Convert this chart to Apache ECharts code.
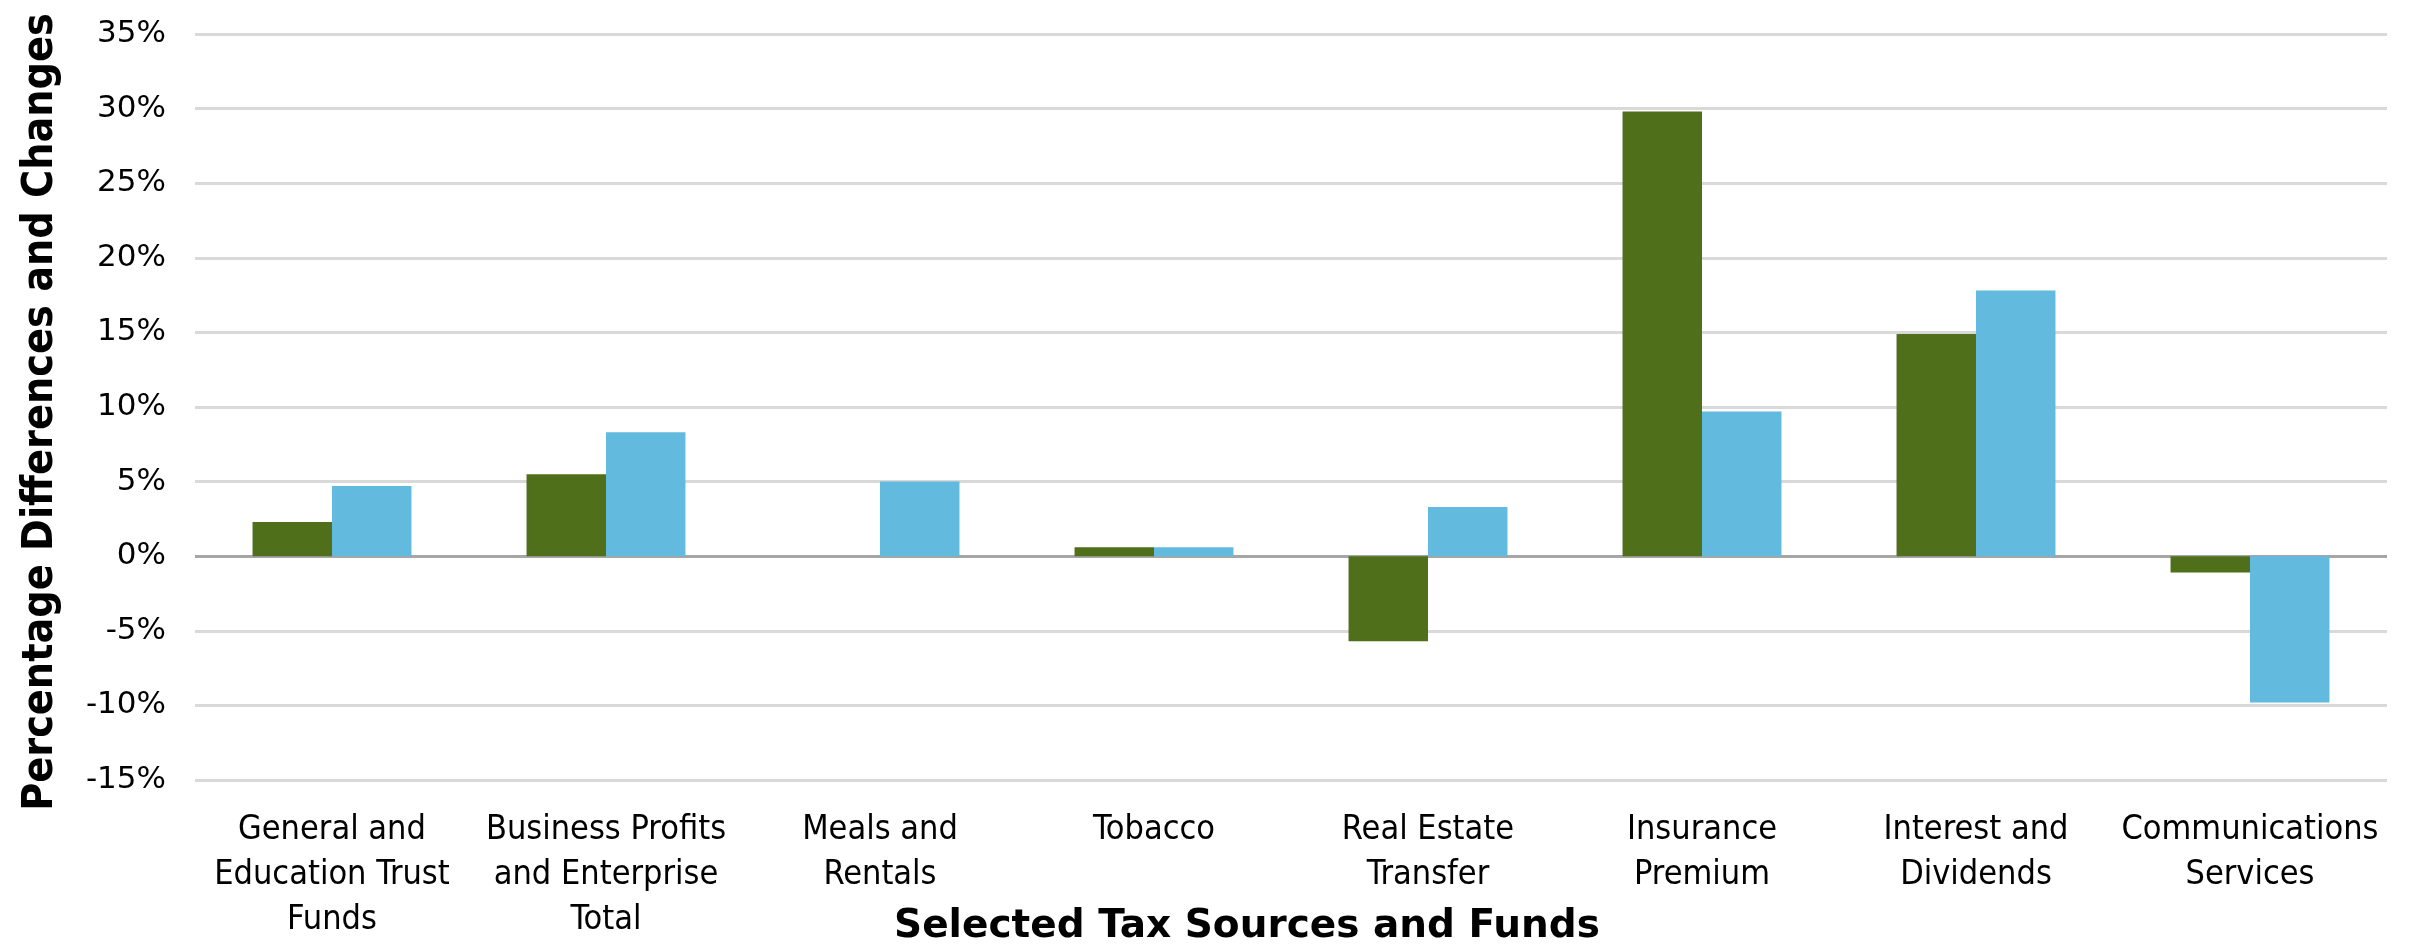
<!DOCTYPE html>
<html>
<head>
<meta charset="utf-8">
<script src="https://cdn.jsdelivr.net/npm/echarts@6/dist/echarts.min.js"></script>
<style>
html,body{margin:0;padding:0;background:#fff;}
#chart{width:2412px;height:948px;}
</style>
</head>
<body>
<div id="chart"></div>
<script>
const categories = [
  'General and\nEducation Trust\nFunds',
  'Business Profits\nand Enterprise\nTotal',
  'Meals and\nRentals',
  'Tobacco',
  'Real Estate\nTransfer',
  'Insurance\nPremium',
  'Interest and\nDividends',
  'Communications\nServices'
];
const greenValues = [2.3, 5.5, 0, 0.6, -5.7, 29.8, 14.9, -1.1];
const blueValues  = [4.7, 8.3, 5.0, 0.6, 3.3, 9.7, 17.8, -9.8];
const yTicks = { min: -15, max: 35, step: 5 };

const gridColors = [];
for (let v = yTicks.min; v <= yTicks.max; v += yTicks.step) {
  gridColors.push(v === 0 ? '#A6A6A6' : '#D9D9D9');
}

const chart = echarts.init(document.getElementById('chart'), null, {renderer: 'canvas'});
chart.setOption({
  animation: false,
  backgroundColor: '#ffffff',
  grid: { left: 195, right: 25, top: 34, bottom: 168, containLabel: false, outerBoundsMode: 'none' },
  xAxis: {
    type: 'category',
    data: categories,
    axisLine: { show: false },
    axisTick: { show: false },
    axisLabel: {
      interval: 0,
      margin: 28,
      color: '#000',
      fontFamily: '"DejaVu Sans Condensed", "DejaVu Sans", sans-serif',
      fontSize: 34,
      lineHeight: 45
    },
    name: 'Selected Tax Sources and Funds',
    nameLocation: 'middle',
    nameGap: 127,
    nameMoveOverlap: false,
    nameTextStyle: {
      color: '#000',
      fontFamily: '"DejaVu Sans", sans-serif',
      fontWeight: 'bold',
      fontSize: 39,
      padding: [0, 88, 0, 0]
    }
  },
  yAxis: {
    type: 'value',
    min: yTicks.min,
    max: yTicks.max,
    interval: yTicks.step,
    axisLine: { show: false },
    axisTick: { show: false },
    axisLabel: {
      formatter: '{value}%',
      margin: 29,
      color: '#000',
      fontFamily: '"DejaVu Sans", sans-serif',
      fontSize: 31
    },
    splitLine: { show: true, lineStyle: { color: gridColors, width: 3 } },
    name: 'Percentage Differences and Changes',
    nameLocation: 'middle',
    nameGap: 133,
    nameMoveOverlap: false,
    nameTextStyle: {
      color: '#000',
      fontFamily: '"Liberation Sans Narrow", "DejaVu Sans Condensed", sans-serif',
      fontWeight: 'bold',
      fontSize: 42.6,
      padding: [0, 10, 0, 0]
    }
  },
  series: [
    {
      name: 'Percentage Difference',
      type: 'bar',
      data: greenValues,
      barGap: '0%',
      barCategoryGap: '42%',
      itemStyle: { color: '#4F6F1A' }
    },
    {
      name: 'Percentage Change',
      type: 'bar',
      data: blueValues,
      barGap: '0%',
      barCategoryGap: '42%',
      itemStyle: { color: '#63BADF' }
    }
  ]
});
</script>
</body>
</html>
